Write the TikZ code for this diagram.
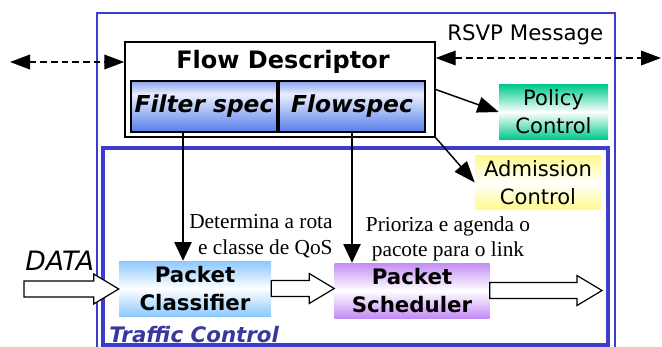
\documentclass[tikz,border=0pt]{standalone}
\usepackage{fontspec}
\setmainfont{DejaVu Sans}
\newfontfamily\notefont{Liberation Serif}
\usetikzlibrary{arrows.meta,calc}

\definecolor{boxblue}{RGB}{60,60,205}
\definecolor{tcblue}{RGB}{55,55,160}
\definecolor{specblue}{RGB}{85,125,235}
\definecolor{polgreen}{RGB}{0,200,140}
\definecolor{admyellow}{RGB}{255,250,140}
\definecolor{clsblue}{RGB}{140,200,255}
\definecolor{schpurple}{RGB}{195,140,245}

\pgfdeclareverticalshading{specshade}{100bp}{color(0bp)=(specblue); color(25bp)=(specblue); color(62bp)=(specblue!12!white); color(75bp)=(specblue!70!white); color(100bp)=(specblue!70!white)}

% hollow block arrow from #1 to the point of #2 level with #1
\newcommand{\fatarrow}[2]{%
  \draw[line width=0.9pt, fill=white] let \p1=(#1), \p2=(#2 |- #1) in
    (\x1,\y1+6pt) -- (\x2-18.75pt,\y1+6pt) -- (\x2-18.75pt,\y1+11.25pt) -- (\x2,\y1)
    -- (\x2-18.75pt,\y1-11.25pt) -- (\x2-18.75pt,\y1-6pt) -- (\x1,\y1-6pt) -- cycle;}

\begin{document}
\begin{tikzpicture}[x=0.75pt,y=-0.75pt,
        specbox/.style={draw=black, line width=1.1pt, shade, shading=specshade, minimum width=109.5pt, minimum height=38.25pt, inner sep=0pt, font=\fontsize{17.5}{19}\selectfont\bfseries\itshape},
        ctrlbox/.style={align=center, inner sep=0pt, minimum height=41pt, font=\fontsize{15.8}{21}\selectfont},
        pktbox/.style={align=center, inner sep=0pt, minimum height=41.25pt, font=\fontsize{16}{21}\selectfont\bfseries},
        note/.style={inner sep=0pt, font=\notefont\fontsize{16}{19}\selectfont},
        rsvp/.style={line width=1.1pt, dash pattern=on 5pt off 3pt, {Triangle[length=15pt,width=11pt]}-{Triangle[length=15pt,width=11pt]}},
        downarrow/.style={line width=0.9pt, -{Triangle[length=14pt,width=13pt]}},
        sidearrow/.style={line width=1.1pt, -{Triangle[length=16pt,width=12pt]}}
        ]
    \clip (0,0) rectangle (662,347);

    % frames
    \draw[boxblue, line width=1.2pt] (97,13) rectangle (615,360);
    \draw[boxblue, line width=2.4pt] (103,148) rectangle (608,345);
    \node[anchor=base west, inner sep=0pt, text=tcblue, font=\fontsize{16}{17}\selectfont\bfseries\itshape] (tc) at (109,342) {Traffic Control};

    % flow descriptor
    \node[draw=black, line width=1.1pt, fill=white, minimum width=232.5pt, minimum height=71.25pt] (fd) at (280,89.5) {};
    \node[font=\fontsize{18}{20}\selectfont\bfseries] (fdt) at (283,62) {Flow Descriptor};
    \node[specbox] (filt) at (204,106.5) {Filter spec};
    \node[specbox] (flow) at (352,106.5) {Flowspec};

    \node[ctrlbox, minimum width=81.75pt, top color=polgreen, bottom color=polgreen, middle color=white] (pol) at (553.5,112) {Policy\\Control};
    \node[ctrlbox, minimum width=94.5pt, top color=admyellow, bottom color=admyellow, middle color=white] (adm) at (538,182.5) {Admission\\Control};

    \node[pktbox, minimum width=114pt, top color=clsblue, bottom color=clsblue, middle color=white] (cls) at (195,288.5) {Packet\\Classifier};
    \node[pktbox, minimum width=116.25pt, top color=schpurple, bottom color=schpurple, middle color=white] (sch) at (412,290.5) {Packet\\Scheduler};

    \node[anchor=base west, inner sep=0pt, font=\fontsize{20}{22}\selectfont\itshape] (data) at (25,270) {DATA};
    \node[anchor=base west, inner sep=0pt, font=\fontsize{16}{18}\selectfont] (msg) at (447,40) {RSVP Message};

    \node[note, align=right, anchor=west] (lbl1) at (189,236) {Determina a rota\\e classe de QoS};
    \node[note, align=center] (lbl2) at (448,239) {Prioriza e agenda o\\pacote para o link};

    \coordinate (rsvpl) at (10,62);
    \coordinate (rsvpr) at (661,58);
    \coordinate (datain) at (24,289);
    \coordinate (dataout) at (602,289);
    \coordinate (filtout) at ($(filt.south)+(-21,0)$);

    \draw[rsvp] (rsvpl) -- (rsvpl -| fd.west);
    \draw[rsvp] (fd.east |- rsvpr) -- (rsvpr);

    \draw[sidearrow] (fd.east) -- (pol.west);
    \draw[sidearrow] (fd.south east) -- (adm.west);

    \draw[downarrow] (filtout) -- (filtout |- cls.north);
    \draw[downarrow] (flow.south) -- (flow.south |- sch.north);

    \fatarrow{datain}{cls.west}
    \fatarrow{cls.east}{sch.west}
    \fatarrow{sch.east}{dataout}

\end{tikzpicture}
\end{document}
